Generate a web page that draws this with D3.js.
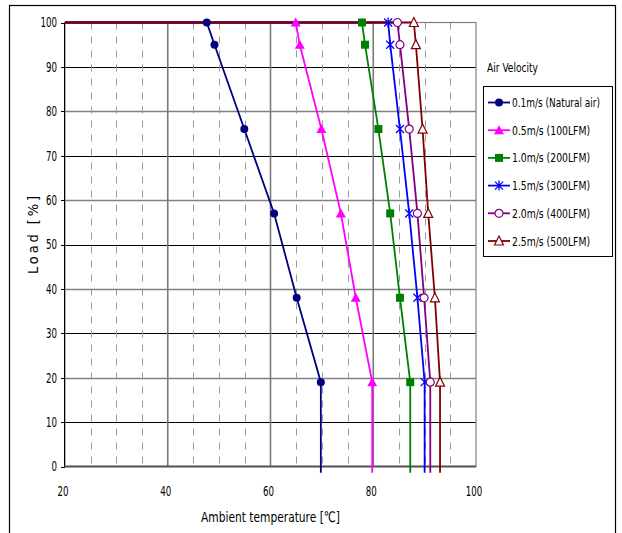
<!DOCTYPE html>
<html><head><meta charset="utf-8">
<script src="https://cdn.jsdelivr.net/npm/d3@7"></script>
<style>
body{margin:0;background:#fff}
text{font-family:"DejaVu Sans Condensed","Liberation Sans Narrow","Noto Sans",sans-serif;fill:#000}
</style>
</head><body>
<svg id="c" width="622" height="533"></svg>
<script>
// ---- data ----
const loads = [100, 95, 76, 57, 38, 19];
const startTemp = 20;     // each curve starts at 100% load from 20 °C
const floorLoad = -1.4;   // curves drop vertically just past the axis
const seriesNames = ["0.1m/s (Natural air)", "0.5m/s (100LFM)", "1.0m/s (200LFM)", "1.5m/s (300LFM)", "2.0m/s (400LFM)", "2.5m/s (500LFM)"];
const temps01 = [47.6, 49.1, 54.9, 60.7, 65.1, 69.8];
const temps05 = [64.9, 65.7, 69.9, 73.7, 76.6, 79.8];
const temps10 = [77.8, 78.4, 81.0, 83.3, 85.2, 87.2];
const temps15 = [82.9, 83.3, 85.2, 87.0, 88.6, 90.0];
const temps20 = [84.7, 85.2, 87.0, 88.6, 89.9, 91.1];
const temps25 = [87.9, 88.3, 89.6, 90.7, 92.0, 93.0];
const xTicks = [20, 40, 60, 80, 100];
const yTicks = [0, 10, 20, 30, 40, 50, 60, 70, 80, 90, 100];
const xMinorGrid = [25, 30, 35, 45, 50, 55, 65, 70, 75, 85, 90, 95];
const xMajorGrid = [40, 60, 80];

// ---- styles ----
const colors = ["#000080", "#ff00ff", "#008000", "#0000ff", "#800080", "#800000"];
const shapes = ["circle", "triangle", "square", "star", "ocircle", "otriangle"];
const allTemps = [temps01, temps05, temps10, temps15, temps20, temps25];

const svg = d3.select("#c");
const x = d3.scaleLinear().domain([20, 100]).range([65, 476]);
const y = d3.scaleLinear().domain([0, 100]).range([466.5, 22.5]);
const px = v => Math.round(v) + 0.5;

// outer frame
svg.append("rect").attr("x", 9.5).attr("y", 5.5).attr("width", 606).attr("height", 540)
  .attr("fill", "none").attr("stroke", "#000").attr("stroke-width", 1.2);

const g = svg.append("g");
yTicks.filter(t => t > 0 && t < 100).forEach(t => {
  g.append("line").attr("x1", x(20)).attr("x2", x(100)).attr("y1", px(y(t))).attr("y2", px(y(t)))
    .attr("stroke", t % 20 === 0 ? "#808080" : "#000").attr("stroke-width", t % 20 === 0 ? 1.4 : 1);
});
xMinorGrid.forEach(t => {
  g.append("line").attr("x1", px(x(t))).attr("x2", px(x(t))).attr("y1", y(100)).attr("y2", y(0))
    .attr("stroke", "#999").attr("stroke-width", 1).attr("stroke-dasharray", "7,7");
});
xMajorGrid.forEach(t => {
  g.append("line").attr("x1", x(t)).attr("x2", x(t)).attr("y1", y(100)).attr("y2", y(0))
    .attr("stroke", "#7a7a7a").attr("stroke-width", 1.6);
});
g.append("rect").attr("x", x(20)).attr("y", y(100)).attr("width", x(100) - x(20)).attr("height", y(0) - y(100))
  .attr("fill", "none").attr("stroke", "#808080").attr("stroke-width", 1.2);
g.append("line").attr("x1", px(x(20)) - 1).attr("x2", px(x(20)) - 1).attr("y1", y(100)).attr("y2", y(0)).attr("stroke", "#000");
yTicks.forEach(t => {
  g.append("line").attr("x1", x(20) - 4).attr("x2", x(20)).attr("y1", px(y(t))).attr("y2", px(y(t))).attr("stroke", "#000");
  svg.append("text").attr("x", 57).attr("y", y(t)).attr("dy", "0.36em").attr("text-anchor", "end")
    .attr("font-size", 13.5).attr("textLength", String(t).length * 5.5).attr("lengthAdjust", "spacingAndGlyphs").text(t);
});
g.append("line").attr("x1", x(20)).attr("x2", x(100)).attr("y1", y(0)).attr("y2", y(0))
  .attr("stroke", "#555").attr("stroke-width", 2);
xTicks.forEach(t => {
  svg.append("text").attr("x", x(t) - 2).attr("y", 491).attr("dy", "0.36em").attr("text-anchor", "middle")
    .attr("font-size", 13.5).attr("textLength", String(t).length * 5.5).attr("lengthAdjust", "spacingAndGlyphs").text(t);
});

// titles
svg.append("text").attr("x", 201).attr("y", 517).attr("dy", "0.36em")
  .attr("font-size", 14.5).attr("textLength", 139).attr("lengthAdjust", "spacingAndGlyphs").text("Ambient temperature  [℃]");
svg.append("text").attr("transform", "translate(33,274) rotate(-90)").attr("dy", "0.36em")
  .attr("font-size", 14.5).attr("textLength", 78).attr("lengthAdjust", "spacing").text("Load  [%]");

// series lines
const line = d3.line().x(d => x(d[0])).y(d => y(d[1]));
allTemps.forEach((ts, i) => {
  const pts = [[startTemp, 100]].concat(ts.map((t, j) => [t, loads[j]])).concat([[ts[ts.length - 1], floorLoad]]);
  svg.append("path").attr("d", line(pts)).attr("fill", "none").attr("stroke", colors[i]).attr("stroke-width", 1.8);
});

function marker(sel, shape, color, cx, cy) {
  const m = sel.append("g").attr("transform", `translate(${cx},${cy})`);
  if (shape === "circle") m.append("circle").attr("r", 4).attr("fill", color);
  else if (shape === "ocircle") m.append("circle").attr("r", 4).attr("fill", "#fff").attr("stroke", color).attr("stroke-width", 1.2);
  else if (shape === "triangle") m.append("path").attr("d", "M0,-5L5,4L-5,4Z").attr("fill", color);
  else if (shape === "otriangle") m.append("path").attr("d", "M0,-5L4.5,4L-4.5,4Z").attr("fill", "#fff").attr("stroke", color).attr("stroke-width", 1.2);
  else if (shape === "square") m.append("rect").attr("x", -4).attr("y", -4).attr("width", 8).attr("height", 8).attr("fill", color);
  else if (shape === "star") m.append("path").attr("d", "M-4,-4L4,4M-4,4L4,-4M0,-5L0,5").attr("stroke", color).attr("stroke-width", 1.3).attr("fill", "none");
}
allTemps.forEach((ts, i) => {
  ts.forEach((t, j) => marker(svg, shapes[i], colors[i], x(t), y(loads[j])));
});

// legend
svg.append("text").attr("x", 487).attr("y", 67).attr("dy", "0.36em").attr("font-size", 13)
  .attr("textLength", 51).attr("lengthAdjust", "spacingAndGlyphs").text("Air Velocity");
svg.append("rect").attr("x", 483.5).attr("y", 86.5).attr("width", 129).attr("height", 170)
  .attr("fill", "#fff").attr("stroke", "#000").attr("stroke-width", 1);
seriesNames.forEach((name, i) => {
  const ly = 102.5 + i * 27.7;
  svg.append("line").attr("x1", 488).attr("x2", 510).attr("y1", ly).attr("y2", ly).attr("stroke", colors[i]).attr("stroke-width", 1.8);
  marker(svg, shapes[i], colors[i], 499, ly);
  svg.append("text").attr("x", 512).attr("y", ly).attr("dy", "0.36em").attr("font-size", 12.5)
    .attr("textLength", i === 0 ? 88 : 78).attr("lengthAdjust", "spacingAndGlyphs").text(name);
});
</script>
</body></html>
